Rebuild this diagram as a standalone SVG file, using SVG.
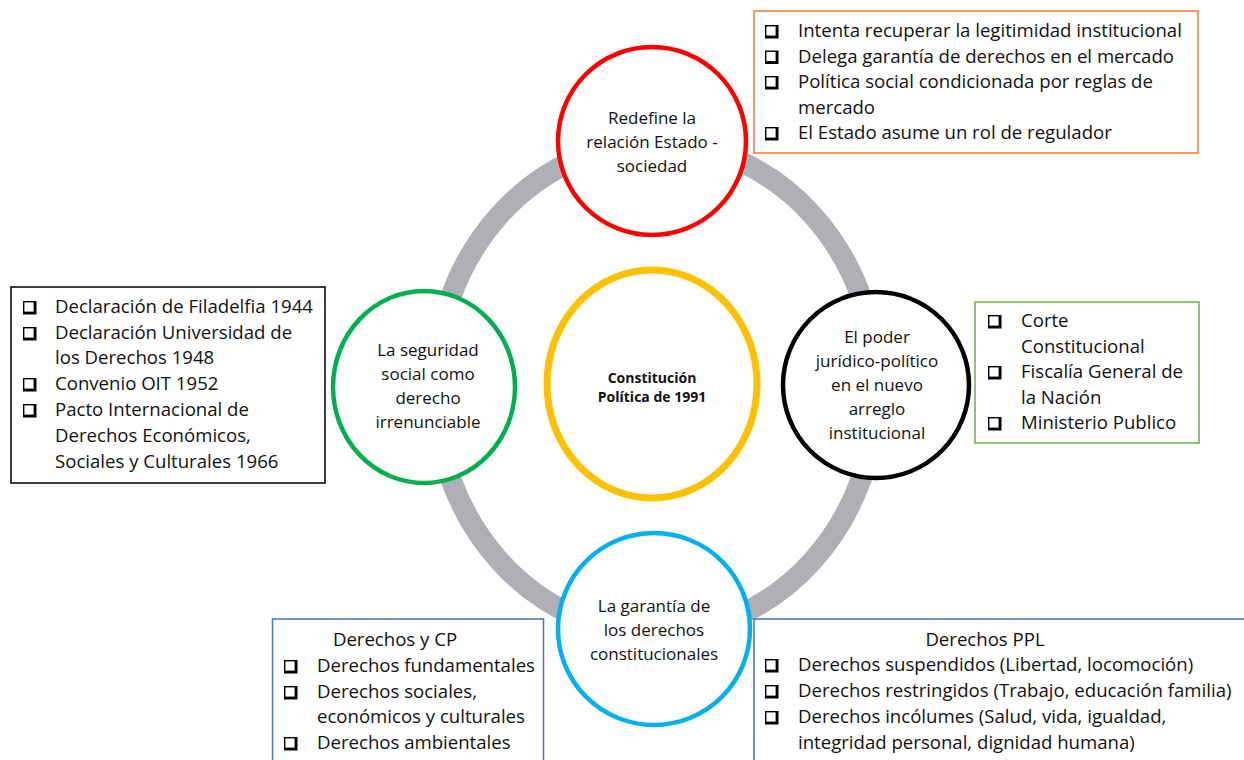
<svg xmlns="http://www.w3.org/2000/svg" xmlns:xlink="http://www.w3.org/1999/xlink" width="1244" height="760" viewBox="0 0 1244 760">
  <style>
    .t { font-family: "Open Sans", "Noto Sans", "Liberation Sans", sans-serif; font-size: 18.6px; fill: #111; }
    .c { text-anchor: middle; }
    .ct { font-family: "Open Sans", "Noto Sans", "Liberation Sans", sans-serif; font-size: 17px; fill: #111; text-anchor: middle; }
    .core { font-family: "Open Sans", "Noto Sans", "Liberation Sans", sans-serif; font-size: 14px; font-weight: bold; fill: #111; text-anchor: middle; }
    .node { fill: #fff; }
    .box { fill: #fff; stroke-width: 1.5; }
  </style>
  <defs>
    <!-- check-box bullet with drop shadow on right and bottom -->
    <g id="cb">
      <rect x="0" y="0" width="13.5" height="13.5" fill="#000"/>
      <rect x="1.4" y="1.4" width="9.2" height="9.2" fill="#fff"/>
    </g>
  </defs>

  <!-- connecting ring -->
  <g id="connectors">
    <ellipse cx="656" cy="388" rx="221" ry="245" fill="none" stroke="#AEB0B5" stroke-width="21"/>
  </g>

  <!-- central node -->
  <g id="center">
    <ellipse class="node" cx="652" cy="384" rx="105" ry="114" stroke="#FFC000" stroke-width="7"/>
    <text class="core" x="652" y="383">Constitución</text>
    <text class="core" x="652" y="402">Política de 1991</text>
  </g>

  <g id="node-top">
    <circle class="node" cx="652" cy="141" r="94" stroke="#FF0000" stroke-width="4.5"/>
    <text class="ct" x="652" y="124">Redefine la</text>
    <text class="ct" x="652" y="148">relación Estado -</text>
    <text class="ct" x="652" y="172">sociedad</text>
  </g>

  <g id="node-left">
    <ellipse class="node" cx="424" cy="387" rx="91" ry="96" stroke="#00B050" stroke-width="4.5"/>
    <text class="ct" x="428" y="356">La seguridad</text>
    <text class="ct" x="428" y="380">social como</text>
    <text class="ct" x="428" y="404">derecho</text>
    <text class="ct" x="428" y="428">irrenunciable</text>
  </g>

  <g id="node-right">
    <circle class="node" cx="876" cy="385" r="93" stroke="#000" stroke-width="4.5"/>
    <text class="ct" x="877" y="343">El poder</text>
    <text class="ct" x="877" y="367">jurídico-político</text>
    <text class="ct" x="877" y="391">en el nuevo</text>
    <text class="ct" x="877" y="415">arreglo</text>
    <text class="ct" x="877" y="439">institucional</text>
  </g>

  <g id="node-bottom">
    <circle class="node" cx="654" cy="629" r="96" stroke="#00B0F0" stroke-width="4.5"/>
    <text class="ct" x="654" y="612">La garantía de</text>
    <text class="ct" x="654" y="636">los derechos</text>
    <text class="ct" x="654" y="660">constitucionales</text>
  </g>

  <!-- note boxes -->
  <g id="box-top">
    <rect class="box" x="754" y="11" width="444" height="142" stroke="#ED7D31"/>
    <use xlink:href="#cb" x="765" y="25"/>
    <use xlink:href="#cb" x="765" y="50.5"/>
    <use xlink:href="#cb" x="765" y="76"/>
    <use xlink:href="#cb" x="765" y="127"/>
    <text class="t" x="798" y="37">Intenta recuperar la legitimidad institucional</text>
    <text class="t" x="798" y="62.5">Delega garantía de derechos en el mercado</text>
    <text class="t" x="798" y="88">Política social condicionada por reglas de</text>
    <text class="t" x="798" y="113.5">mercado</text>
    <text class="t" x="798" y="139">El Estado asume un rol de regulador</text>
  </g>

  <g id="box-left">
    <rect class="box" x="11" y="287" width="314" height="196" stroke="#000"/>
    <use xlink:href="#cb" x="23" y="301"/>
    <use xlink:href="#cb" x="23" y="327"/>
    <use xlink:href="#cb" x="23" y="378"/>
    <use xlink:href="#cb" x="23" y="404"/>
    <text class="t" x="55" y="313">Declaración de Filadelfia 1944</text>
    <text class="t" x="55" y="339">Declaración Universidad de</text>
    <text class="t" x="55" y="364">los Derechos 1948</text>
    <text class="t" x="55" y="390">Convenio OIT 1952</text>
    <text class="t" x="55" y="416">Pacto Internacional de</text>
    <text class="t" x="55" y="442">Derechos Económicos,</text>
    <text class="t" x="55" y="468">Sociales y Culturales 1966</text>
  </g>

  <g id="box-right">
    <rect class="box" x="975" y="302" width="224" height="141" stroke="#70AD47"/>
    <use xlink:href="#cb" x="988" y="315"/>
    <use xlink:href="#cb" x="988" y="366"/>
    <use xlink:href="#cb" x="988" y="417"/>
    <text class="t" x="1021" y="327">Corte</text>
    <text class="t" x="1021" y="353">Constitucional</text>
    <text class="t" x="1021" y="378">Fiscalía General de</text>
    <text class="t" x="1021" y="404">la Nación</text>
    <text class="t" x="1021" y="429">Ministerio Publico</text>
  </g>

  <g id="box-bottom-left">
    <rect class="box" x="272.5" y="619" width="271" height="160" stroke="#4472C4"/>
    <text class="t c" x="395" y="646">Derechos y CP</text>
    <use xlink:href="#cb" x="284" y="660"/>
    <use xlink:href="#cb" x="284" y="686"/>
    <use xlink:href="#cb" x="284" y="737"/>
    <text class="t" x="317" y="672">Derechos fundamentales</text>
    <text class="t" x="317" y="698">Derechos sociales,</text>
    <text class="t" x="317" y="723">económicos y culturales</text>
    <text class="t" x="317" y="749">Derechos ambientales</text>
  </g>

  <g id="box-bottom-right">
    <rect class="box" x="754" y="619" width="500" height="160" stroke="#4472C4"/>
    <text class="t c" x="985" y="646">Derechos PPL</text>
    <use xlink:href="#cb" x="765" y="659"/>
    <use xlink:href="#cb" x="765" y="685"/>
    <use xlink:href="#cb" x="765" y="711"/>
    <text class="t" x="798" y="671">Derechos suspendidos (Libertad, locomoción)</text>
    <text class="t" x="798" y="697">Derechos restringidos (Trabajo, educación familia)</text>
    <text class="t" x="798" y="723">Derechos incólumes (Salud, vida, igualdad,</text>
    <text class="t" x="798" y="749">integridad personal, dignidad humana)</text>
  </g>
</svg>
